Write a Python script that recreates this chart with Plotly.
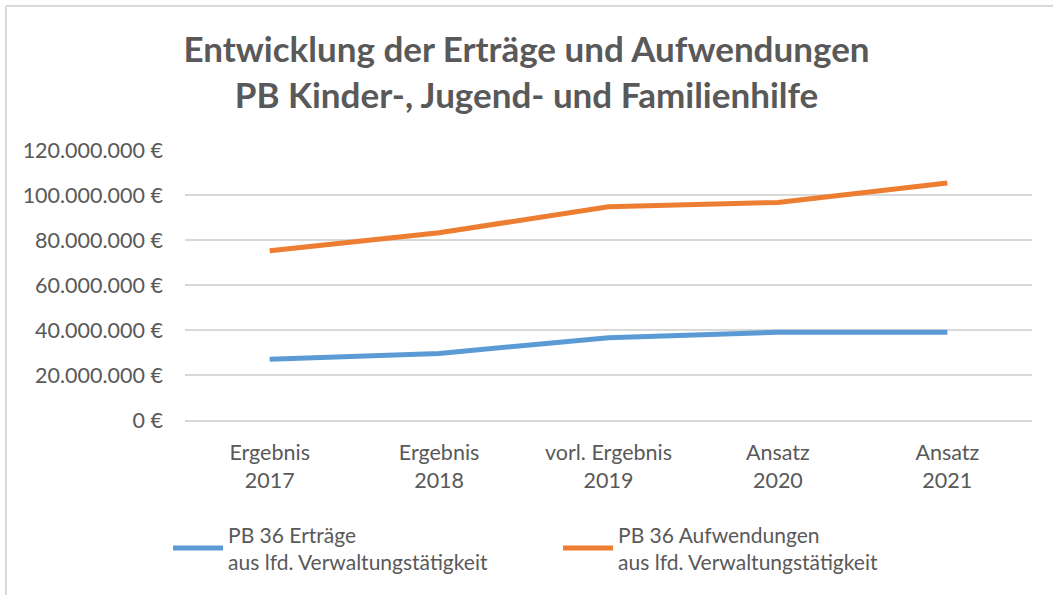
import plotly.graph_objects as go

categories = ['Ergebnis<br>2017', 'Ergebnis<br>2018', 'vorl. Ergebnis<br>2019',
              'Ansatz<br>2020', 'Ansatz<br>2021']
ertraege = [27000000, 29600000, 36600000, 39000000, 39000000]
aufwendungen = [75200000, 83200000, 94800000, 96700000, 105300000]
series_names = ['PB 36 Erträge<br>aus lfd. Verwaltungstätigkeit',
                'PB 36 Aufwendungen<br>aus lfd. Verwaltungstätigkeit']

font = 'Lato'
grey = '#595959'

fig = go.Figure()
fig.add_trace(go.Scatter(x=categories, y=ertraege, name=series_names[0],
                         mode='lines', line=dict(color='#5b9bd5', width=5)))
fig.add_trace(go.Scatter(x=categories, y=aufwendungen, name=series_names[1],
                         mode='lines', line=dict(color='#ed7d31', width=5)))

# chart frame: only left and top edges are visible in the picture
left, top = -179 / 847, 1 + 144 / 270
frame = [
    dict(type='line', xref='paper', yref='paper', x0=left, x1=left, y0=-175 / 270, y1=top,
         line=dict(color='#d9d9d9', width=2)),
    dict(type='line', xref='paper', yref='paper', x0=left, x1=1 + 21 / 847, y0=top, y1=top,
         line=dict(color='#d9d9d9', width=2)),
]

fig.update_layout(
    width=1053, height=595,
    paper_bgcolor='white', plot_bgcolor='white',
    separators=',.',
    margin=dict(l=185, r=21, t=150, b=175),
    title=dict(text='<b>Entwicklung der Erträge und Aufwendungen<br>PB Kinder-, Jugend- und Familienhilfe</b>',
               x=0.5, xanchor='center', y=0.895, yanchor='top',
               font=dict(family=font, size=35, color=grey)),
    font=dict(family=font, size=21, color=grey),
    xaxis=dict(showgrid=False, showline=True, linecolor='#d9d9d9', linewidth=2,
               range=[-0.5, 4.5], ticks='', ticklabelstandoff=12,
               tickfont=dict(size=21.5, color=grey)),
    yaxis=dict(range=[0, 120000000], dtick=20000000, tickformat=',.0f',
               ticksuffix=' €', showgrid=True, gridcolor='#d9d9d9', gridwidth=2,
               zeroline=False, ticks='', ticklabelstandoff=21,
               tickfont=dict(size=21.5, color=grey)),
    legend=dict(orientation='h', x=-0.020, xanchor='left', y=-0.349, yanchor='top',
                font=dict(size=21, color=grey), entrywidth=325, itemwidth=50),
    shapes=frame,
)

fig.write_html('out.html', config={'displayModeBar': False},
               post_script="document.body.style.margin='0';document.body.style.overflow='hidden';")
